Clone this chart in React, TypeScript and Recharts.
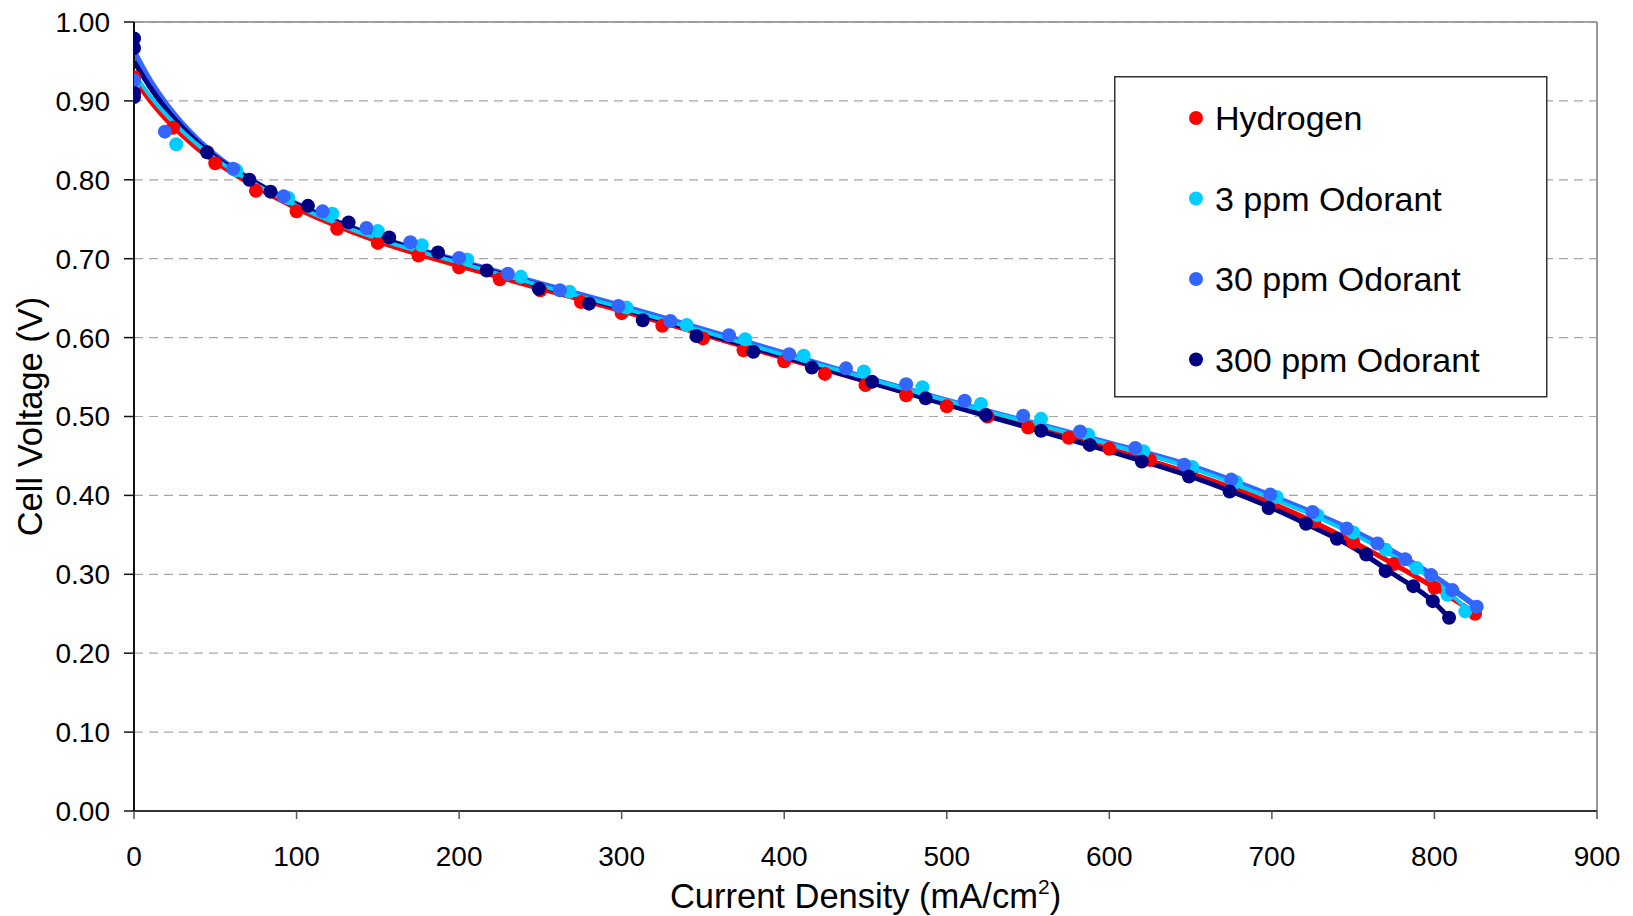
import React from 'react';
import {
  ComposedChart,
  Line,
  Scatter,
  XAxis,
  YAxis,
  CartesianGrid,
  ReferenceLine,
  Legend,
} from 'recharts';

const FONT = '"Liberation Sans", Arial, Helvetica, sans-serif';

const seriesNames = ['Hydrogen', '3 ppm Odorant', '30 ppm Odorant', '300 ppm Odorant'];
const seriesColors = ['#FF0000', '#00CCFF', '#3366FF', '#000080'];

const xTicks = [0, 100, 200, 300, 400, 500, 600, 700, 800, 900];
const yTicks = [0, 0.1, 0.2, 0.3, 0.4, 0.5, 0.6, 0.7, 0.8, 0.9, 1.0];

// Measured points [current density, cell voltage]
const hydrogenPoints: [number, number][] = [
  [0, 0.930], [24, 0.866], [50, 0.821], [75, 0.786], [100, 0.760], [125, 0.738],
  [150, 0.720], [175, 0.704], [200, 0.689], [225, 0.674], [250, 0.660], [275, 0.645],
  [300, 0.631], [325, 0.615], [350, 0.599], [375, 0.584], [400, 0.570], [425, 0.554],
  [450, 0.540], [475, 0.527], [500, 0.513], [525, 0.500], [550, 0.486], [575, 0.473],
  [600, 0.459], [625, 0.445], [650, 0.429], [675, 0.410], [700, 0.389], [726, 0.367],
  [750, 0.341], [775, 0.313], [800, 0.283], [825, 0.250],
];

const odorant3Points: [number, number][] = [
  [0, 0.922], [26, 0.845], [63, 0.812], [95, 0.777], [122, 0.757], [150, 0.735],
  [177, 0.717], [205, 0.699], [238, 0.677], [268, 0.658], [303, 0.638], [340, 0.616],
  [376, 0.598], [412, 0.577], [449, 0.557], [485, 0.537], [521, 0.516], [558, 0.497],
  [587, 0.477], [621, 0.456], [651, 0.436], [678, 0.417], [703, 0.398], [728, 0.375],
  [750, 0.353], [770, 0.331], [789, 0.308], [808, 0.274], [819, 0.253],
];

const odorant30Points: [number, number][] = [
  [0, 0.926], [19, 0.861], [61, 0.814], [92, 0.779], [116, 0.760], [143, 0.739],
  [170, 0.721], [200, 0.701], [230, 0.681], [262, 0.660], [298, 0.640], [330, 0.621],
  [366, 0.603], [403, 0.579], [438, 0.561], [475, 0.541], [511, 0.520], [547, 0.501],
  [582, 0.481], [616, 0.460], [646, 0.439], [675, 0.420], [699, 0.401], [725, 0.379],
  [746, 0.358], [765, 0.339], [782, 0.319], [798, 0.299], [811, 0.280], [826, 0.259],
];

const odorant300Points: [number, number][] = [
  [0, 0.979], [0, 0.967], [0, 0.910], [0, 0.905], [45, 0.835], [71, 0.800], [84, 0.785],
  [107, 0.767], [132, 0.746], [157, 0.727], [187, 0.708], [217, 0.685], [249, 0.662],
  [280, 0.643], [313, 0.622], [346, 0.602], [381, 0.582], [417, 0.562], [454, 0.544],
  [487, 0.523], [524, 0.502], [558, 0.482], [588, 0.464], [620, 0.443], [649, 0.424],
  [674, 0.405], [698, 0.384], [721, 0.364], [740, 0.345], [758, 0.325], [770, 0.304],
  [787, 0.285], [799, 0.266], [809, 0.245],
];

// Trend lines
const hydrogenFit: [number, number][] = [
  [0, 0.928], [10, 0.900], [20, 0.876], [30, 0.856], [40, 0.838], [50, 0.823],
  [75, 0.791], [100, 0.764], [150, 0.722], [200, 0.691], [250, 0.662], [300, 0.634],
  [350, 0.604], [400, 0.574], [450, 0.545], [500, 0.516], [550, 0.488], [600, 0.459],
  [650, 0.428], [700, 0.390], [725, 0.367], [750, 0.341], [775, 0.313], [800, 0.283],
  [825, 0.251],
];

const odorant3Fit: [number, number][] = [
  [0, 0.935], [10, 0.906], [20, 0.882], [30, 0.861], [40, 0.843], [50, 0.827],
  [75, 0.794], [100, 0.767], [150, 0.725], [200, 0.695], [250, 0.666], [300, 0.638],
  [350, 0.608], [400, 0.578], [450, 0.549], [500, 0.520], [550, 0.493], [600, 0.465],
  [650, 0.435], [700, 0.396], [725, 0.375], [750, 0.351], [775, 0.323], [800, 0.292],
  [820, 0.256],
];

const odorant30Fit: [number, number][] = [
  [0, 0.962], [10, 0.925], [20, 0.895], [30, 0.870], [40, 0.849], [50, 0.831],
  [75, 0.796], [100, 0.769], [150, 0.727], [200, 0.697], [250, 0.668], [300, 0.640],
  [350, 0.610], [400, 0.580], [450, 0.549], [500, 0.520], [550, 0.493], [600, 0.466],
  [650, 0.437], [700, 0.399], [725, 0.378], [750, 0.355], [775, 0.328], [800, 0.297],
  [826, 0.259],
];

const odorant300Fit: [number, number][] = [
  [0, 0.950], [10, 0.917], [20, 0.889], [30, 0.866], [40, 0.846], [50, 0.829],
  [75, 0.796], [100, 0.769], [150, 0.727], [200, 0.696], [250, 0.666], [300, 0.637],
  [350, 0.606], [400, 0.576], [450, 0.545], [500, 0.515], [550, 0.486], [600, 0.456],
  [650, 0.424], [675, 0.405], [700, 0.384], [725, 0.360], [750, 0.334], [775, 0.300],
  [800, 0.264], [809, 0.245],
];

const toXY = (arr: [number, number][]) => arr.map(([x, y]) => ({ x, y }));

const pointSets = [hydrogenPoints, odorant3Points, odorant30Points, odorant300Points].map(toXY);
const fitSets = [hydrogenFit, odorant3Fit, odorant30Fit, odorant300Fit].map(toXY);

const makeDot = (color: string) => (props: any) => {
  if (props.cx == null || props.cy == null) return <g />;
  return <circle cx={props.cx} cy={props.cy} r={7} fill={color} />;
};

const XTitle = (props: any) => {
  const vb = props.viewBox || { x: 134, y: 811, width: 1463, height: 105 };
  const cx = vb.x + vb.width / 2;
  const y = vb.y + 97;
  return (
    <text x={cx} y={y} textAnchor="middle" fontSize={34.5} fill="#000" fontFamily={FONT}>
      Current Density (mA/cm
      <tspan dy={-14} fontSize={21}>2</tspan>
      <tspan dy={14}>)</tspan>
    </text>
  );
};

const YTitle = (props: any) => {
  const vb = props.viewBox || { x: 0, y: 22, width: 134, height: 789 };
  const cy = vb.y + vb.height / 2;
  const x = 42;
  return (
    <text
      x={x}
      y={cy}
      transform={`rotate(-90, ${x}, ${cy})`}
      textAnchor="middle"
      fontSize={34.5}
      fill="#000"
      fontFamily={FONT}
    >
      Cell Voltage (V)
    </text>
  );
};

const renderLegend = () => (
  <svg width={434} height={322} style={{ display: 'block' }}>
    <rect x={0.75} y={0.75} width={432} height={320} fill="#fff" stroke="#333" strokeWidth={1.5} />
    {seriesNames.map((name, i) => (
      <g key={name}>
        <circle cx={82} cy={42 + i * 80.5} r={7} fill={seriesColors[i]} />
        <text
          x={101}
          y={42 + i * 80.5}
          dominantBaseline="central"
          fontSize={34}
          fill="#000"
          fontFamily={FONT}
        >
          {name}
        </text>
      </g>
    ))}
  </svg>
);

const lineOrder = [2, 0, 3, 1];
const lineWidths = [5, 4, 6, 5];

export default function App() {
  return (
    <div style={{ position: 'absolute', left: 0, top: 0, width: 1633, height: 916, background: '#fff' }}>
      <ComposedChart
        width={1633}
        height={916}
        margin={{ top: 22, right: 36, bottom: 0, left: 0 }}
        style={{ fontFamily: FONT }}
      >
        <CartesianGrid vertical={false} stroke="#A6A6A6" strokeDasharray="9 6" strokeWidth={1.2} />
        <XAxis
          type="number"
          dataKey="x"
          domain={[0, 900]}
          ticks={xTicks}
          interval={0}
          height={105}
          tickSize={8}
          tickMargin={27}
          tick={{ fontSize: 28, fill: '#000', fontFamily: FONT }}
          axisLine={{ stroke: '#333', strokeWidth: 2 }}
          tickLine={{ stroke: '#555', strokeWidth: 1.5 }}
          allowDataOverflow
          label={<XTitle />}
        />
        <YAxis
          type="number"
          domain={[0, 1]}
          ticks={yTicks}
          interval={0}
          width={134}
          tickSize={10}
          tickMargin={14}
          tickFormatter={(v: number) => v.toFixed(2)}
          tick={{ fontSize: 28, fill: '#000', fontFamily: FONT }}
          axisLine={{ stroke: '#111', strokeWidth: 2 }}
          tickLine={{ stroke: '#111', strokeWidth: 1.5 }}
          allowDataOverflow
          label={<YTitle />}
        />
        <ReferenceLine y={1} stroke="#888" strokeWidth={1.5} />
        <ReferenceLine x={900} stroke="#999" strokeWidth={2} />
        {pointSets.map((pts, i) => (
          <Scatter
            key={`pts-${i}`}
            name={seriesNames[i]}
            data={pts}
            dataKey="y"
            fill={seriesColors[i]}
            shape={makeDot(seriesColors[i])}
            isAnimationActive={false}
            legendType="circle"
          />
        ))}
        {lineOrder.map((i) => (
          <Line
            key={`fit-${i}`}
            name={`${seriesNames[i]} fit`}
            data={fitSets[i]}
            dataKey="y"
            type="monotone"
            stroke={seriesColors[i]}
            strokeWidth={lineWidths[i]}
            dot={false}
            activeDot={false}
            isAnimationActive={false}
            legendType="none"
          />
        ))}
        <Legend
          layout="vertical"
          align="center"
          verticalAlign="middle"
          content={renderLegend}
          wrapperStyle={{ position: 'absolute', left: 1114, top: 76, width: 434, height: 322 }}
        />
      </ComposedChart>
    </div>
  );
}
